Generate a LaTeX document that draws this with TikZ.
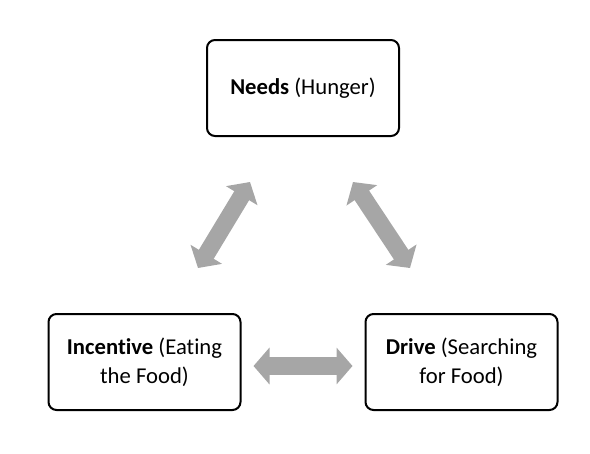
\documentclass[tikz,border=0pt]{standalone}
\usepackage{fontspec}
\setmainfont{Carlito}[Ligatures=NoCommon]
\usepackage{tikz}
\usetikzlibrary{arrows.meta,positioning,calc}
\usepackage{xcolor}
\definecolor{cArrow}{RGB}{166,166,166}

\begin{document}
\begin{tikzpicture}[x=0.75pt, y=-0.75pt,
  box/.style={draw, line width=1.5pt, rounded corners=6pt, minimum width=144pt,
    minimum height=72pt, align=center, font=\fontsize{17}{21.5}\selectfont},
  dbl/.style={draw=cArrow, line width=13pt,
    {Triangle[width=27pt,length=12pt]}-{Triangle[width=27pt,length=12pt]}}]
  \useasboundingbox (0,0) rectangle (590,454);
  % boxes
  \node[box] (needs) at (303,88) {\textbf{Needs} (Hunger)};
  \node[box] (incentive) at (144.5,362) {\textbf{Incentive} (Eating\\the Food)};
  \node[box] (drive) at (461.5,362) {\textbf{Drive} (Searching\\for Food)};
  % arrow ends
  \coordinate (inA) at (198,268);
  \coordinate (ndA) at (250,182);
  \coordinate (ndB) at (353,182);
  \coordinate (drB) at (410,268);
  % arrows
  \draw[dbl] (inA) -- (ndA);
  \draw[dbl] (ndB) -- (drB);
  \draw[dbl, shorten <=9pt, shorten >=9pt] ($(incentive.east)+(0,4)$) -- ($(drive.west)+(0,4)$);
\end{tikzpicture}
\end{document}
